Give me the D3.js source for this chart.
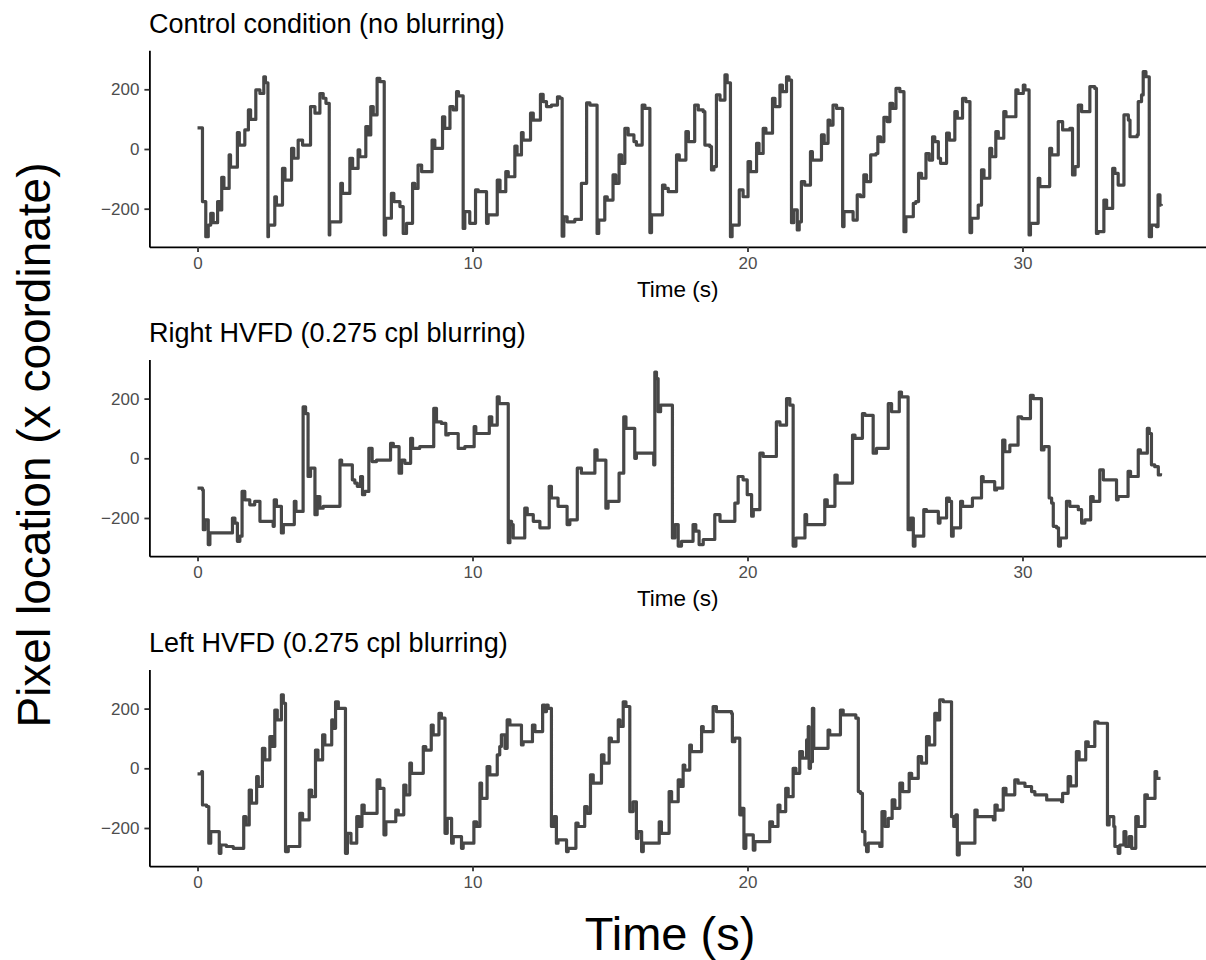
<!DOCTYPE html>
<html>
<head>
<meta charset="utf-8">
<script src="https://cdn.jsdelivr.net/npm/d3@7/dist/d3.min.js"></script>
<style>
  html, body { margin: 0; padding: 0; background: #fff; }
  svg { display: block; font-family: "Liberation Sans", Arial, Helvetica, sans-serif; }
</style>
</head>
<body>
<svg id="chart" width="1206" height="960"></svg>
<script>
// ---- data: step series [time (s), pixel x location] ----
const controlSeries = [
[0,71],[0.18,-176],[0.30,-294],[0.39,-255],[0.48,-216],[0.57,-247],[0.73,-176],[0.81,-204],[0.88,-95],[0.96,-132],[1.15,-20],[1.20,-61],[1.45,55],[1.52,13],[1.72,64],[1.85,131],[1.93,99],[2.12,198],[2.27,186],[2.41,242],[2.47,222],[2.56,-294],
[2.58,-255],[2.81,-160],[2.87,-188],[3.09,-65],[3.18,-104],[3.42,2],[3.50,-31],[3.66,30],[3.82,13],[4.11,142],[4.27,120],[4.45,186],[4.57,170],[4.67,153],[4.79,-288],
[4.81,-244],[5.21,-115],[5.27,-149],[5.54,-31],[5.64,-65],[5.84,-3],[5.90,-26],[6.12,75],[6.21,47],[6.30,142],[6.39,114],[6.53,237],[6.63,226],[6.79,-288],
[6.84,-232],[7.05,-149],[7.14,-176],[7.36,-193],[7.48,-283],[7.60,-249],[7.82,-115],[7.90,-132],[8.02,-54],[8.15,-76],[8.53,30],[8.63,2],[8.91,108],[8.99,69],[9.18,142],[9.30,131],[9.42,192],[9.49,178],[9.66,-266],
[9.72,-210],[9.90,-249],[10.11,-137],[10.21,-143],[10.51,-249],[10.57,-221],[10.90,-104],[11.00,-143],[11.21,-76],[11.30,-93],[11.54,10],[11.62,-20],[11.78,55],[11.84,30],[12.11,120],[12.21,97],[12.47,183],[12.57,159],[12.69,142],[12.87,147],[13.09,175],[13.18,170],[13.26,-292],
[13.32,-227],[13.44,-244],[13.72,-236],[13.96,-115],[14.15,155],[14.27,147],[14.53,-283],
[14.59,-238],[14.81,-160],[14.90,-171],[15.11,-87],[15.21,-115],[15.33,-20],[15.42,-48],[15.54,69],[15.66,47],[15.87,25],[15.96,13],[16.17,147],[16.27,136],[16.45,-280],
[16.51,-221],[16.91,-121],[17.00,-132],[17.12,-143],[17.42,-20],[17.52,-37],[17.76,58],[17.85,25],[18.08,147],[18.21,131],[18.39,125],[18.45,13],[18.63,8],[18.69,-70],[18.78,-59],[18.87,181],[19.00,164],[19.18,248],[19.26,222],[19.38,-294],
[19.44,-255],[19.70,-137],[19.84,-160],[20.02,-42],[20.11,-76],[20.33,19],[20.42,-15],[20.57,69],[20.67,53],[20.91,170],[21.00,142],[21.18,214],[21.27,192],[21.42,242],[21.51,231],[21.60,-247],
[21.68,-204],[21.81,-271],[21.88,-244],[21.96,-109],[22.08,-121],[22.29,-9],[22.36,-37],[22.69,47],[22.79,19],[22.93,97],[22.99,80],[23.11,147],[23.24,136],[23.46,-260],
[23.51,-210],[23.84,-238],[23.99,-154],[24.11,-160],[24.23,-87],[24.33,-109],[24.48,-20],[24.67,-15],[24.74,41],[24.84,25],[24.96,106],[25.08,92],[25.18,153],[25.28,136],[25.40,203],[25.54,192],[25.69,-277],
[25.76,-227],[26.03,-182],[26.12,-176],[26.22,-82],[26.33,-98],[26.49,-15],[26.61,-37],[26.73,41],[26.81,25],[26.94,-31],[27.02,-48],[27.24,53],[27.34,30],[27.54,125],[27.63,103],[27.82,170],[27.94,159],[28.09,-280],
[28.15,-232],[28.39,-188],[28.51,-70],[28.60,-98],[28.81,2],[28.88,-26],[29.03,58],[29.12,36],[29.32,125],[29.40,108],[29.76,198],[29.84,186],[30.03,214],[30.09,198],[30.24,-288],
[30.29,-249],[30.57,-98],[30.63,-126],[30.99,2],[31.06,-20],[31.30,92],[31.46,64],[31.72,69],[31.82,-87],[31.91,-59],[32.03,147],[32.15,125],[32.45,209],[32.63,203],[32.69,-283],
[32.75,-277],[32.96,-171],[33.06,-199],[33.28,-65],[33.36,-82],[33.48,-121],[33.69,114],[33.85,97],[33.91,41],[34.17,47],[34.21,159],[34.33,181],[34.39,259],[34.49,242],[34.61,-294],[34.69,-255],[34.87,-260],[34.93,-154],[35.00,-188],[35.05,-190]
];

const rightSeries = [
[0,-100],[0.18,-106],[0.21,-239],[0.27,-206],[0.39,-289],[0.45,-250],[1.27,-200],[1.36,-217],[1.45,-278],[1.54,-261],[1.62,-111],[1.72,-139],[1.90,-156],[2.08,-144],[2.27,-211],[2.75,-228],[2.79,-139],[2.87,-161],[3.05,-250],[3.12,-222],[3.52,-144],[3.58,-178],[3.84,172],[3.93,150],[4.02,-61],[4.11,-33],[4.27,-189],[4.35,-128],[4.45,-167],[4.57,-161],[5.18,-6],[5.24,-22],[5.63,-72],[5.72,-83],[5.81,-94],[5.93,-61],[6.00,-122],[6.08,-111],[6.23,33],[6.35,-11],[6.51,-6],[7.02,50],[7.12,39],[7.33,-50],[7.42,-6],[7.54,-17],[7.75,67],[7.82,33],[8.08,39],[8.59,167],[8.69,122],[8.87,117],[9.03,78],[9.12,83],[9.48,33],[9.72,39],[10.06,106],[10.12,83],[10.61,139],[10.70,111],[10.90,206],[10.97,183],
[11.30,-283],[11.36,-211],[11.42,-222],[11.48,-267],[11.90,-167],[11.99,-189],[12.21,-211],[12.45,-233],[12.79,-94],[12.87,-133],[13.11,-161],[13.44,-222],[13.54,-206],[13.81,-33],[13.96,-50],[14.45,28],[14.53,-6],[14.85,-167],[14.93,-144],[15.33,-50],[15.50,139],[15.58,100],[15.90,0],[15.96,17],[16.59,-22],[16.63,289],[16.69,267],[16.75,156],[16.84,178],
[17.27,-267],[17.36,-222],[17.48,-294],[17.60,-278],[18.02,-222],[18.12,-244],[18.24,-289],[18.39,-272],[18.81,-189],[19.00,-211],[19.54,-150],[19.66,-61],[19.84,-72],[19.99,-122],[20.15,-194],[20.21,-172],[20.45,17],[20.57,6],[21.05,122],[21.18,111],[21.42,200],[21.54,178],
[21.66,-294],[21.76,-267],[22.09,-189],[22.15,-222],[22.81,-139],[22.90,-161],[23.18,-56],[23.26,-83],[23.82,78],[23.91,67],[24.18,150],[24.27,144],[24.57,17],[24.69,33],[25.12,183],[25.24,156],[25.52,222],[25.60,206],
[25.84,-239],[25.93,-200],[26.03,-294],[26.09,-261],[26.41,-172],[26.51,-178],[26.94,-217],[27.00,-200],[27.24,-133],[27.34,-144],[27.42,-261],[27.48,-233],[27.75,-144],[27.82,-161],[28.18,-133],[28.51,-61],[28.57,-78],[28.99,-106],[29.06,-100],[29.28,61],[29.36,22],[29.54,44],[29.84,139],[29.97,133],[30.29,211],[30.39,200],[30.69,28],[30.78,39],
[30.97,-133],[31.06,-150],[31.12,-228],[31.24,-233],[31.31,-294],[31.38,-267],[31.60,-144],[31.72,-161],[32.03,-172],[32.15,-217],[32.27,-206],[32.48,-128],[32.57,-144],[32.81,-39],[32.94,-72],[33.42,-139],[33.48,-128],[33.84,-44],[33.93,-61],[34.21,28],[34.29,17],[34.54,100],[34.61,83],[34.69,-22],[34.81,-28],[34.94,-56],[35.02,-50]
];

const leftSeries = [
[0,-19],[0.15,-11],[0.18,-123],[0.33,-128],[0.41,-251],[0.48,-212],[0.79,-285],[0.85,-257],[1.05,-262],[1.30,-268],[1.68,-162],[1.76,-190],[1.88,-73],[1.96,-117],[2.15,-28],[2.21,-61],[2.36,67],[2.45,28],[2.63,106],[2.73,73],[2.81,195],[2.90,162],[3.05,246],[3.12,218],
[3.20,-279],[3.30,-262],[3.72,-151],[3.82,-173],[4.06,-73],[4.15,-95],[4.29,61],[4.38,28],[4.55,112],[4.63,78],[4.88,162],[4.93,134],[5.02,223],[5.12,201],
[5.38,-285],[5.45,-218],[5.58,-251],[5.79,-162],[5.88,-195],[5.98,-123],[6.06,-151],[6.53,-39],[6.63,-67],[6.78,-223],[6.85,-179],[7.21,-140],[7.30,-156],[7.50,-56],[7.58,-89],[7.72,17],[7.78,-17],[8.21,73],[8.30,61],[8.50,145],[8.57,112],[8.78,184],[8.87,168],
[9.00,-218],[9.08,-168],[9.24,-251],[9.30,-229],[9.60,-268],[9.66,-251],[10.05,-179],[10.15,-195],[10.27,-50],[10.33,-101],[10.53,6],[10.63,-22],[10.90,45],[10.99,73],[11.05,112],[11.18,67],[11.26,162],[11.36,145],[11.78,78],[11.84,89],[12.18,145],[12.27,123],[12.55,212],[12.63,190],[12.69,212],[12.75,201],
[12.87,-195],[12.96,-162],[13.05,-251],[13.11,-240],[13.42,-279],[13.48,-268],[13.76,-184],[13.84,-195],[14.08,-128],[14.17,-151],[14.29,-22],[14.39,-50],[14.69,45],[14.78,17],[14.97,101],[15.05,89],[15.30,162],[15.36,140],[15.48,223],[15.58,207],
[15.72,-145],[15.84,-112],[15.96,-235],[16.02,-212],[16.15,-279],[16.21,-251],[16.79,-179],[16.87,-218],[17.15,-78],[17.24,-112],[17.48,-39],[17.56,-61],[17.66,11],[17.72,-6],[17.90,78],[17.96,56],[18.33,140],[18.39,123],[18.75,207],[18.87,190],[19.42,184],[19.45,89],[19.54,101],
[19.72,-156],[19.78,-134],[19.87,-268],[19.94,-223],[20.21,-274],[20.27,-246],[20.81,-179],[20.91,-195],[21.11,-123],[21.18,-145],[21.39,-67],[21.48,-95],[21.66,0],[21.76,-17],[21.90,56],[22.00,34],[22.15,95],[22.21,140],[22.24,0],[22.29,22],[22.36,201],[22.41,67],[22.93,128],[22.99,112],[23.38,195],[23.48,179],[23.94,168],
[24.03,-78],[24.11,-84],[24.18,-212],[24.27,-257],[24.33,-279],[24.39,-251],[24.81,-262],[24.89,-145],[25.00,-195],[25.12,-168],[25.26,-106],[25.36,-134],[25.54,-50],[25.64,-78],[25.88,-17],[25.97,-34],[26.21,39],[26.33,17],[26.51,106],[26.61,78],[26.81,184],[26.90,162],[26.99,229],[27.12,223],
[27.42,-162],[27.50,-195],[27.58,-156],[27.63,-290],[27.70,-251],[28.27,-140],[28.35,-162],[28.94,-173],[29.00,-123],[29.08,-140],[29.30,-67],[29.40,-89],[29.72,-39],[29.84,-50],[30.09,-61],[30.33,-78],[30.45,-89],[30.88,-106],[31.42,-112],[31.46,-84],[31.66,-28],[31.75,-59],[31.96,56],[32.06,28],[32.30,89],[32.39,73],[32.63,156],[32.75,151],[33.06,151],
[33.09,-190],[33.15,-162],[33.32,-195],[33.36,-262],[33.48,-285],[33.54,-257],[33.69,-212],[33.76,-262],[33.88,-229],[33.97,-268],[34.12,-162],[34.21,-195],[34.45,-89],[34.54,-101],[34.82,-11],[34.88,-34],[35.02,-34]
];

const panelTitles = ["Control condition (no blurring)", "Right HVFD (0.275 cpl blurring)", "Left HVFD (0.275 cpl blurring)"];
const panelSeries = [controlSeries, rightSeries, leftSeries];
const panelHasXTitle = [true, true, false];
const xTicks = [0, 10, 20, 30];
const yTicks = [-200, 0, 200];
const yTickLabels = ["\u2212200", "0", "200"];
const panelXTitle = "Time (s)";
const yTitle = "Pixel location (x coordinate)";
const xTitle = "Time (s)";

// ---- layout ----
const svg = d3.select("#chart");
const plotLeft = 149.4, plotRight = 1208.1;
const panelBottoms = [246.9, 556.2, 866.2];
const panelHeight = 196.7;

const x = d3.scaleLinear().domain([-1.75, 36.75]).range([plotLeft, plotRight]);
const lineColor = "#474747";

panelSeries.forEach((series, i) => {
  const bottom = panelBottoms[i];
  const top = bottom - panelHeight;
  const y = d3.scaleLinear().domain([-328, 331]).range([bottom, top]);
  const g = svg.append("g");

  // title
  g.append("text")
    .attr("x", 149).attr("y", bottom - 214)
    .attr("font-size", 27).attr("fill", "#000")
    .text(panelTitles[i]);

  // line
  const line = d3.line()
    .x(d => x(d[0])).y(d => y(d[1]))
    .curve(d3.curveStepAfter);
  g.append("path")
    .datum(series)
    .attr("d", line)
    .attr("fill", "none")
    .attr("stroke", lineColor)
    .attr("stroke-width", 3.2)
    .attr("stroke-linejoin", "round");

  // axes
  const xAxis = g.append("g")
    .attr("transform", `translate(0,${bottom})`)
    .call(d3.axisBottom(x).tickValues(xTicks).tickSize(5).tickPadding(5).tickSizeOuter(0));
  const yAxis = g.append("g")
    .attr("transform", `translate(${plotLeft},0)`)
    .call(d3.axisLeft(y).tickValues(yTicks).tickFormat((d, k) => yTickLabels[k]).tickSize(5).tickPadding(5).tickSizeOuter(0));

  [xAxis, yAxis].forEach(a => {
    a.select(".domain").attr("stroke", "#000").attr("stroke-width", 1.8);
    a.selectAll(".tick line").attr("stroke", "#333").attr("stroke-width", 1.8);
    a.selectAll(".tick text").attr("fill", "#4d4d4d").attr("font-size", 17)
      .attr("font-family", "\"Liberation Sans\", Arial, sans-serif");
  });

  // per-panel x title
  if (panelHasXTitle[i]) {
    g.append("text")
      .attr("x", (plotLeft + plotRight) / 2 - 1).attr("y", bottom + 50)
      .attr("text-anchor", "middle")
      .attr("font-size", 22.5).attr("fill", "#000")
      .text(panelXTitle);
  }
});

// big y title
svg.append("text")
  .attr("transform", "translate(50,445) rotate(-90)")
  .attr("text-anchor", "middle")
  .attr("font-size", 46).attr("fill", "#000")
  .text(yTitle);

// big x title
svg.append("text")
  .attr("x", 670).attr("y", 950)
  .attr("text-anchor", "middle")
  .attr("font-size", 47).attr("fill", "#000")
  .text(xTitle);
</script>
</body>
</html>
